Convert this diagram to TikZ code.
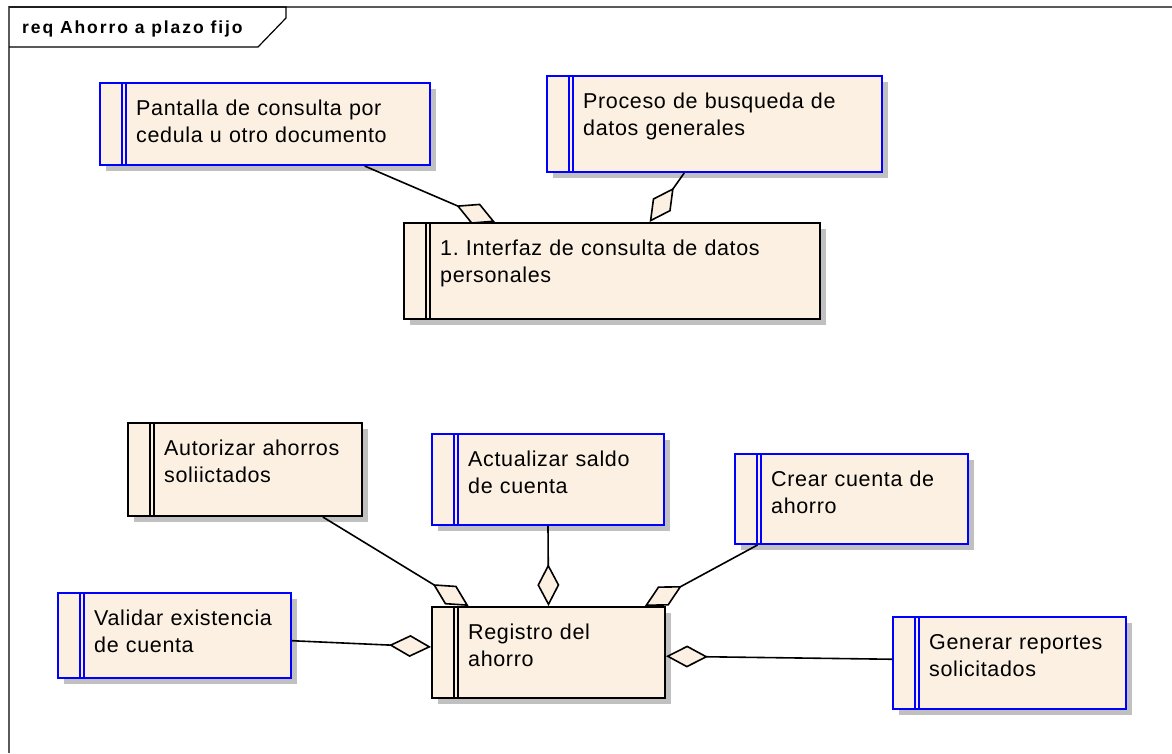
\documentclass[tikz,border=0pt]{standalone}
\usepackage{fontspec}
\setmainfont{Liberation Sans}
\newfontfamily\reqfont[LetterSpace=3]{Liberation Sans}
\newfontfamily\tabfont[LetterSpace=11]{Liberation Sans}
\usetikzlibrary{arrows.meta,shadows,calc}

\definecolor{reqfill}{RGB}{251,240,225}
\definecolor{reqblue}{RGB}{0,0,255}
\definecolor{reqshadow}{RGB}{192,192,192}
\definecolor{framegray}{RGB}{90,90,90}

\tikzset{
  reqbox/.style={draw=#1, fill=reqfill, line width=2pt, inner sep=0pt, anchor=north west,
    drop shadow={shadow xshift=6pt, shadow yshift=-6pt, fill=reqshadow, opacity=1},
    path picture={\draw[#1, line width=1.5pt]
      ([xshift=22pt]path picture bounding box.north west) -- ([xshift=22pt]path picture bounding box.south west)
      ([xshift=26pt]path picture bounding box.north west) -- ([xshift=26pt]path picture bounding box.south west);}},
  reqtext/.style={anchor=base west, inner sep=0pt, text width=330pt, align=left,
    font=\reqfont\fontsize{21.5}{27}\selectfont\frenchspacing},
  agg/.style={line width=1.6pt, -{Diamond[length=42pt, width=22pt, fill=reqfill]}},
}

% name, x, y, width, height, colour, text
\newcommand{\Req}[7]{%
  \node[reqbox=#6, minimum width=#4pt, minimum height=#5pt] (#1) at (#2,#3) {};
  \node[reqtext] (#1-txt) at ([xshift=37pt,yshift=-33pt]#1.north west) {#7};}

\begin{document}
\begin{tikzpicture}[x=1pt,y=-1pt]
\useasboundingbox (0,0) rectangle (1172,753);

% frame and tab
\draw[framegray, line width=1.2pt] (9,753) -- (9,7) -- (1172,7);
\draw[line width=1.2pt] (9,7) -- (286,7) -- (286,18) -- (258,47) -- (9,47);
\node[font=\tabfont\bfseries\fontsize{17.5}{20}\selectfont, anchor=base west, inner sep=0pt] (title) at (22,33) {req Ahorro a plazo fijo};

\Req{pant}{99}{82}{330}{82}{reqblue}{Pantalla de consulta por\\cedula u otro documento}
\Req{proc}{546}{75}{335}{96}{reqblue}{Proceso de busqueda de\\datos generales}
\Req{intf}{403}{222}{416}{96}{black}{1. Interfaz de consulta de datos\\personales}

\Req{auto}{127}{422}{234}{93}{black}{Autorizar ahorros\\soliictados}
\Req{actu}{431}{433}{232}{91}{reqblue}{Actualizar saldo\\de cuenta}
\Req{crea}{734}{453}{233}{90}{reqblue}{Crear cuenta de\\ahorro}
\Req{vali}{57}{592}{233}{85}{reqblue}{Validar existencia\\de cuenta}
\Req{regi}{431}{606}{233}{91}{black}{Registro del\\ahorro}
\Req{gene}{892}{616}{233}{92}{reqblue}{Generar reportes\\solicitados}

\draw[agg] ($(pant.south west)!.80!(pant.south east)$) -- ($(intf.north west)!.22!(intf.north east)$);
\draw[agg] ($(proc.south west)!.41!(proc.south east)$) -- ($(intf.north west)!.59!(intf.north east)$);

\draw[agg] ($(auto.south west)!.83!(auto.south east)$) -- ($(regi.north west)!.16!(regi.north east)$);
\draw[agg] (actu.south) -- (regi.north);
\draw[agg] ($(crea.south west)!.10!(crea.south east)$) -- ($(regi.north west)!.91!(regi.north east)$);
\draw[agg] ($(vali.north east)!.56!(vali.south east)$) -- ($(regi.north west)!.44!(regi.south west)$);
\draw[agg] ($(gene.north west)!.46!(gene.south west)$) -- ($(regi.north east)!.54!(regi.south east)$);
\end{tikzpicture}
\end{document}
